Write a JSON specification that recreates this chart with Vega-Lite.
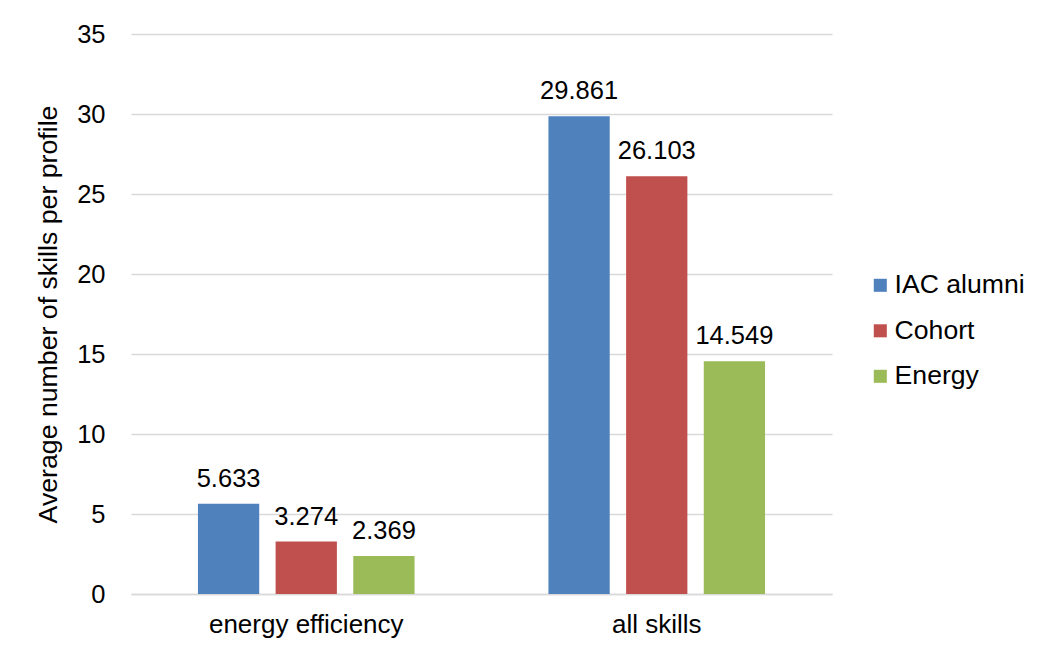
{
  "$schema": "https://vega.github.io/schema/vega-lite/v6.json",
  "width": 701,
  "height": 560,
  "autosize": {"type": "none"},
  "padding": {"left": 131, "top": 34, "right": 205, "bottom": 59},
  "background": "white",
  "config": {
    "font": "Liberation Sans",
    "view": {"stroke": null},
    "axis": {"labelFont": "Liberation Sans", "titleFont": "Liberation Sans", "labelColor": "#000000", "titleColor": "#000000", "titleFontWeight": "normal"}
  },
  "data": {
    "values": [
      {"category": "energy efficiency", "group": "IAC alumni", "value": 5.633},
      {"category": "energy efficiency", "group": "Cohort", "value": 3.274},
      {"category": "energy efficiency", "group": "Energy", "value": 2.369},
      {"category": "all skills", "group": "IAC alumni", "value": 29.861},
      {"category": "all skills", "group": "Cohort", "value": 26.103},
      {"category": "all skills", "group": "Energy", "value": 14.549}
    ]
  },
  "encoding": {
    "x": {
      "field": "category", "type": "nominal", "sort": ["energy efficiency", "all skills"],
      "scale": {"paddingInner": 0.382, "paddingOuter": 0.191},
      "axis": {"title": null, "labelAngle": 0, "labelFontSize": 26, "labelLimit": 0, "labelPadding": 17, "ticks": false, "domainColor": "#d9d9d9", "domainWidth": 1.5}
    },
    "xOffset": {
      "field": "group", "type": "nominal", "sort": ["IAC alumni", "Cohort", "Energy"],
      "scale": {"paddingInner": 0.211, "paddingOuter": 0}
    },
    "y": {
      "field": "value", "type": "quantitative",
      "scale": {"domain": [0, 35], "nice": false},
      "axis": {"title": "Average number of skills per profile", "titleFontSize": 26.7, "labelFontSize": 25.5, "values": [0, 5, 10, 15, 20, 25, 30, 35], "ticks": false, "domain": false, "labelPadding": 26, "titlePadding": 14, "gridColor": "#d9d9d9", "gridWidth": 1.5}
    }
  },
  "layer": [
    {
      "mark": {"type": "bar"},
      "encoding": {
        "color": {
          "field": "group", "type": "nominal", "sort": ["IAC alumni", "Cohort", "Energy"],
          "scale": {"domain": ["IAC alumni", "Cohort", "Energy"], "range": ["#4f81bd", "#c0504d", "#9bbb59"]},
          "legend": {"title": null, "orient": "none", "legendX": 736, "legendY": 238, "labelFontSize": 26.6, "labelFont": "Liberation Sans", "labelColor": "#000000", "symbolType": "square", "symbolSize": 170, "symbolStrokeWidth": 0, "rowPadding": 18.5, "labelOffset": 1, "padding": 0}
        }
      }
    },
    {
      "mark": {"type": "text", "baseline": "alphabetic", "dy": -17, "fontSize": 25.5, "font": "Liberation Sans", "color": "#000000"},
      "encoding": {
        "text": {"field": "value", "type": "quantitative", "format": ".3f"}
      }
    }
  ]
}
